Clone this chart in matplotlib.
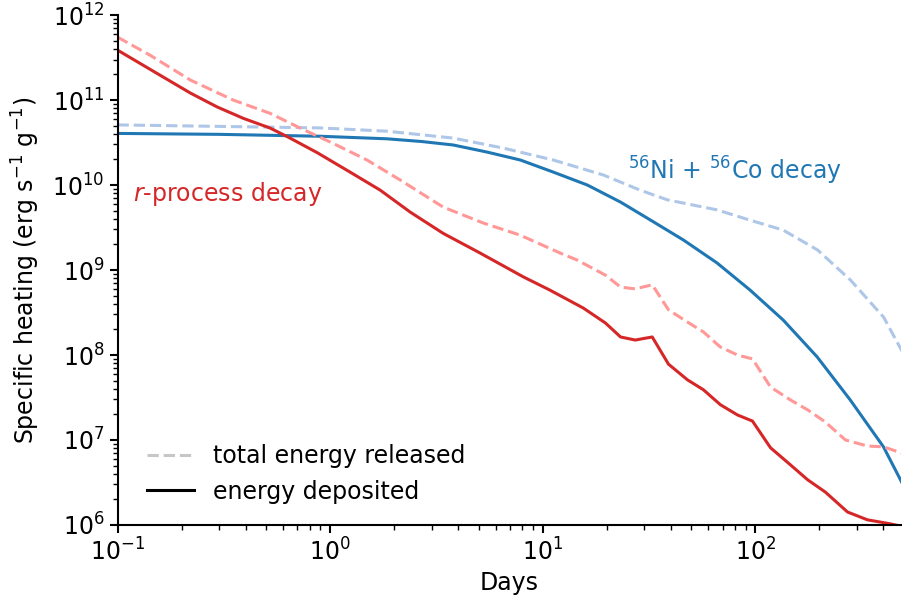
import numpy as np
import matplotlib
matplotlib.use("Agg")
from matplotlib import pyplot as plt
from matplotlib.lines import Line2D

# r-process heating, energy deposited (solid) -- days, erg/s/g
rp_dep_t = [0.1, 0.158, 0.22, 0.294, 0.39, 0.52, 0.63, 0.87, 1.24, 1.72, 2.38, 3.4,
            5.08, 8.1, 10.8, 15.5, 19.7, 23.2, 27.2, 32.7, 39, 47.9, 56.9, 68.4,
            82.3, 96.8, 117.7, 146, 176, 213, 271, 336, 432, 490]
rp_dep = [3.87e11, 1.97e11, 1.21e11, 8.3e10, 6.1e10, 4.7e10, 3.7e10, 2.4e10, 1.42e10,
          8.7e9, 4.8e9, 2.7e9, 1.58e9, 8.3e8, 5.8e8, 3.57e8, 2.38e8, 1.63e8, 1.5e8,
          1.63e8, 7.8e7, 5.1e7, 3.9e7, 2.6e7, 1.97e7, 1.67e7, 8.1e6, 5.1e6, 3.4e6,
          2.44e6, 1.42e6, 1.15e6, 1.03e6, 9.6e5]

# r-process heating, total energy released (dashed)
rp_tot_t = [0.1, 0.142, 0.22, 0.35, 0.52, 0.72, 1.03, 1.49, 2.13, 3.4, 5.25, 7.8, 12.1,
            14.5, 19.7, 23.2, 27.2, 32.7, 39, 47.9, 56.9, 68.4, 82.3, 96.8, 117.7,
            146, 176, 213, 265, 336, 400, 490]
rp_tot = [5.5e11, 3.38e11, 1.72e11, 1.0e11, 7.0e10, 4.7e10, 3.1e10, 1.97e10, 1.15e10,
          5.5e9, 3.57e9, 2.58e9, 1.58e9, 1.31e9, 8.7e8, 6.3e8, 6.0e8, 6.7e8, 3.4e8,
          2.44e8, 1.87e8, 1.24e8, 1.0e8, 9.0e7, 4.2e7, 2.96e7, 2.26e7, 1.63e7, 1.0e7,
          8.5e6, 8.3e6, 7.0e6]

# 56Ni + 56Co, energy deposited
ni_dep_t = [0.1, 0.3, 0.9, 1.85, 2.7, 3.79, 5.48, 7.84, 11.2, 16.2, 23.2, 32.1, 45.9,
            66, 94.4, 135, 195, 279, 400, 490]
ni_dep = [4.05e10, 3.95e10, 3.75e10, 3.5e10, 3.25e10, 2.96e10, 2.44e10, 1.97e10,
          1.42e10, 1.0e10, 6.3e9, 3.87e9, 2.25e9, 1.21e9, 5.8e8, 2.58e8, 9.5e7,
          2.96e7, 8.3e6, 3.1e6]

# 56Ni + 56Co, total energy released
ni_tot_t = [0.1, 0.3, 0.9, 1.85, 3.79, 6.52, 11.2, 19.3, 28.7, 38.5, 66, 94, 135,
            196, 280, 400, 490]
ni_tot = [5.1e10, 4.9e10, 4.7e10, 4.3e10, 3.57e10, 2.72e10, 1.97e10, 1.31e10, 8.7e9,
          6.7e9, 5.1e9, 3.87e9, 2.95e9, 1.72e9, 7.6e8, 2.8e8, 1.1e8]

plt.rcParams['font.size'] = 17
fig, ax = plt.subplots(figsize=(9.02, 6.03), dpi=100)
fig.subplots_adjust(left=0.1303, right=0.999, top=0.975, bottom=0.1294)

ax.plot(ni_tot_t, ni_tot, color='#aec7e8', ls='--', lw=2.2)
ax.plot(ni_dep_t, ni_dep, color='#1f77b4', lw=2.2)
ax.plot(rp_tot_t, rp_tot, color='#ff9896', ls='--', lw=2.2)
ax.plot(rp_dep_t, rp_dep, color='#d62728', lw=2.2)

ax.set_xscale('log')
ax.set_yscale('log')
ax.set_xlim(0.1, 484)
ax.set_ylim(1e6, 1e12)
ax.spines['top'].set_visible(False)
ax.spines['right'].set_visible(False)
for s in ['left', 'bottom']:
    ax.spines[s].set_linewidth(1.5)
ax.tick_params(which='major', width=1.5, length=6)
ax.tick_params(which='minor', width=1.0, length=3.5)

ax.set_xlabel('Days')
ax.set_ylabel('Specific heating (erg s$^{-1}$ g$^{-1}$)', labelpad=7)

ax.text(0.118, 6.5e9, '$r$-process decay', color='#d62728', va='baseline')
ax.text(25.2, 1.15e10, '$^{56}$Ni + $^{56}$Co decay', color='#1f77b4', va='baseline')

handles = [Line2D([], [], color='#c7c7c7', ls='--', lw=2.2),
           Line2D([], [], color='black', lw=2.2)]
ax.legend(handles, ['total energy released', 'energy deposited'],
          loc='lower left', frameon=False, bbox_to_anchor=(0.01, 0.0))

fig.savefig('out.png', dpi=100)
